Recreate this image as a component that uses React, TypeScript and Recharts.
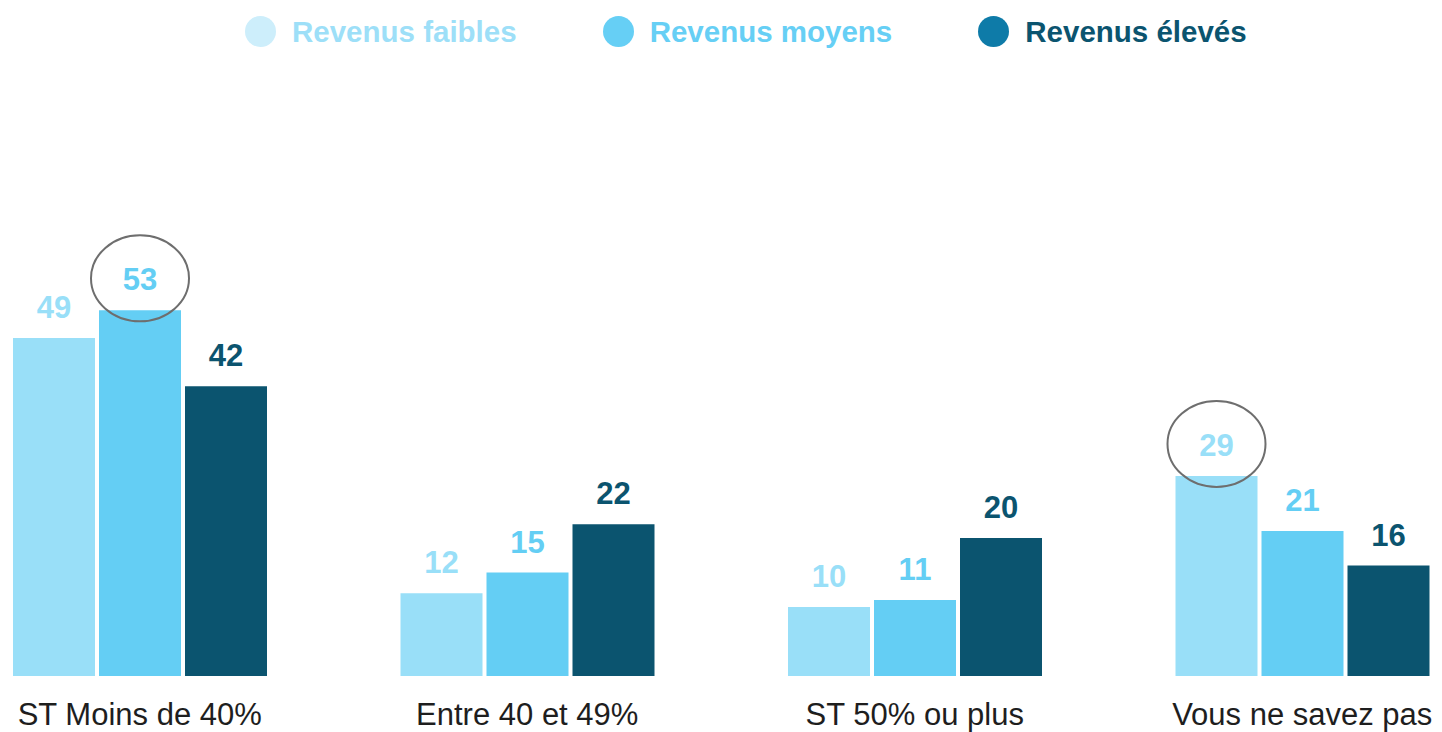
import { BarChart, Bar, XAxis, YAxis, LabelList } from 'recharts';

const categories = ['ST Moins de 40%', 'Entre 40 et 49%', 'ST 50% ou plus', 'Vous ne savez pas'];
const faibles = [49, 12, 10, 29];
const moyens = [53, 15, 11, 21];
const eleves = [42, 22, 20, 16];
// which value labels get the grey ring
const ringFaibles = [false, false, false, true];
const ringMoyens = [true, false, false, false];
const ringEleves = [false, false, false, false];

const series = [
  { key: 'faibles', name: 'Revenus faibles', bar: '#99dff8', label: '#99dff8', dot: '#cdeefb', text: '#9ddff8', rings: ringFaibles },
  { key: 'moyens', name: 'Revenus moyens', bar: '#64cef4', label: '#64cef4', dot: '#66cff5', text: '#66cff5', rings: ringMoyens },
  { key: 'eleves', name: 'Revenus élevés', bar: '#0b546f', label: '#0b546f', dot: '#0e7ba8', text: '#0b546f', rings: ringEleves },
];

const data = categories.map((name, i) => ({
  name,
  faibles: faibles[i],
  moyens: moyens[i],
  eleves: eleves[i],
}));

const FONT = '"Liberation Sans", Arial, sans-serif';

const makeLabel = (color: string, rings: boolean[]) => (props: any) => {
  const { x, y, width, value, index } = props;
  const cx = Number(x) + Number(width) / 2;
  const ty = Number(y) - 20;
  return (
    <g>
      <text x={cx} y={ty} textAnchor="middle" fill={color} fontSize={31} fontWeight="bold" fontFamily={FONT}>
        {value}
      </text>
      {rings[index] && (
        <ellipse cx={cx} cy={ty - 12} rx={49} ry={43} fill="none" stroke="#6e6e6e" strokeWidth={2} />
      )}
    </g>
  );
};

const Legend = () => (
  <div
    style={{
      position: 'absolute',
      top: 16,
      left: 245,
      display: 'flex',
      alignItems: 'center',
      gap: 86,
      fontFamily: FONT,
      fontWeight: 'bold',
      fontSize: 29.5,
    }}
  >
    {series.map((s) => (
      <div key={s.key} style={{ display: 'flex', alignItems: 'center', gap: 16 }}>
        <span style={{ width: 31, height: 31, borderRadius: '50%', background: s.dot, display: 'inline-block' }} />
        <span style={{ color: s.text, lineHeight: '31px' }}>{s.name}</span>
      </div>
    ))}
  </div>
);

export default function App() {
  return (
    <div style={{ position: 'absolute', left: 0, top: 0, width: 1442, height: 732, overflow: 'hidden', background: '#fff' }}>
      <Legend />
      <BarChart
        width={1442}
        height={732}
        data={data}
        margin={{ top: 262, right: -54, bottom: 6, left: -54 }}
        barSize={82}
        barGap={4}
      >
        <XAxis
          dataKey="name"
          axisLine={false}
          tickLine={false}
          tickSize={0}
          tickMargin={27}
          height={50}
          interval={0}
          tick={{ fontSize: 31, fill: '#1e1e1e', fontFamily: FONT }}
        />
        <YAxis hide domain={[0, 60]} />
        {series.map((s) => (
          <Bar key={s.key} dataKey={s.key} fill={s.bar} isAnimationActive={false}>
            <LabelList dataKey={s.key} content={makeLabel(s.label, s.rings)} />
          </Bar>
        ))}
      </BarChart>
    </div>
  );
}
